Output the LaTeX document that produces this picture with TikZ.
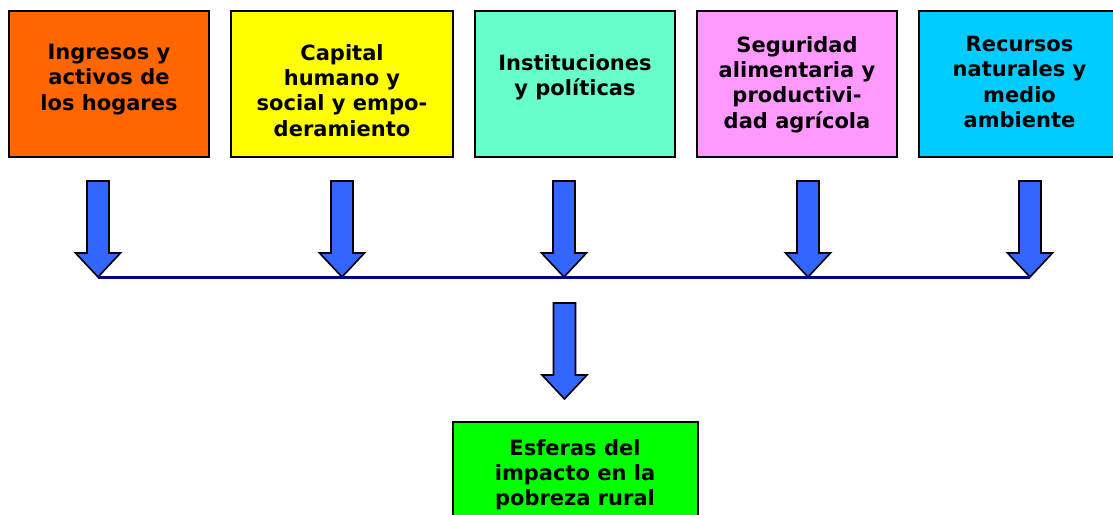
\documentclass[tikz,border=0pt]{standalone}
\usepackage{fontspec}
\setmainfont{DejaVu Sans}
\definecolor{cOrange}{HTML}{FF6600}
\definecolor{cYellow}{HTML}{FFFF00}
\definecolor{cAqua}{HTML}{66FFCC}
\definecolor{cPink}{HTML}{FF99FF}
\definecolor{cCyan}{HTML}{00CCFF}
\definecolor{cGreen}{HTML}{00FF00}
\definecolor{cArrow}{HTML}{3366FF}
\definecolor{cNavy}{HTML}{000080}
\begin{document}
\begin{tikzpicture}[x=1pt,y=-1pt,
  box/.style={draw=black,line width=1.6pt,rectangle,inner sep=0pt,minimum height=146pt},
  label/.style={anchor=north,align=center,inner sep=0pt,font=\fontsize{21}{25.4}\selectfont\bfseries},
  arrowfill/.style={fill=cArrow,draw=black,line width=1.6pt,line join=miter},
  bus/.style={draw=cNavy,line width=3pt},
  blockarrow/.pic={
    \path[arrowfill] (-11,-96) -- (11,-96) -- (11,-24) -- (22.5,-24) -- (0,0) -- (-22.5,-24) -- (-11,-24) -- cycle;
    \coordinate (-tip) at (0,0);
    \coordinate (-top) at (0,-96);
  }]
\useasboundingbox (0,0) rectangle (1113,514);
\begin{scope}
\clip (0,0) rectangle (1113,514);
% top boxes
\node[box,fill=cOrange,minimum width=200pt] (b1) at (109,84) {};
\node[box,fill=cYellow,minimum width=222pt] (b2) at (342,84) {};
\node[box,fill=cAqua,minimum width=200pt] (b3) at (575,84) {};
\node[box,fill=cPink,minimum width=200pt] (b4) at (797,84) {};
\node[box,fill=cCyan,minimum width=201pt] (b5) at (1019.5,84) {};
% bottom box
\node[box,fill=cGreen,minimum width=245pt,minimum height=120pt,anchor=north] (b6) at (575.5,421) {};
% labels
\node[label] (t1) at (109,44) {Ingresos y\\activos de\\los hogares};
\node[label] (t2) at (342,44) {Capital\\humano y\\social y empo-\\deramiento};
\node[label] (t3) at (575,54) {Instituciones\\y políticas};
\node[label] (t4) at (797,36) {Seguridad\\alimentaria y\\productivi-\\dad agrícola};
\node[label] (t5) at (1019.5,36) {Recursos\\naturales y\\medio\\ambiente};
\node[label] (t6) at (575,439) {Esferas del\\impacto en la\\pobreza rural};
% arrows
\pic (a1) at (98,277) {blockarrow};
\pic (a2) at (342,277) {blockarrow};
\pic (a3) at (564,277) {blockarrow};
\pic (a4) at (808,277) {blockarrow};
\pic (a5) at (1030,277) {blockarrow};
\draw[bus] (a1-tip) -- (a5-tip);
\pic (a6) at (564.5,399) {blockarrow};
\end{scope}
\end{tikzpicture}
\end{document}
